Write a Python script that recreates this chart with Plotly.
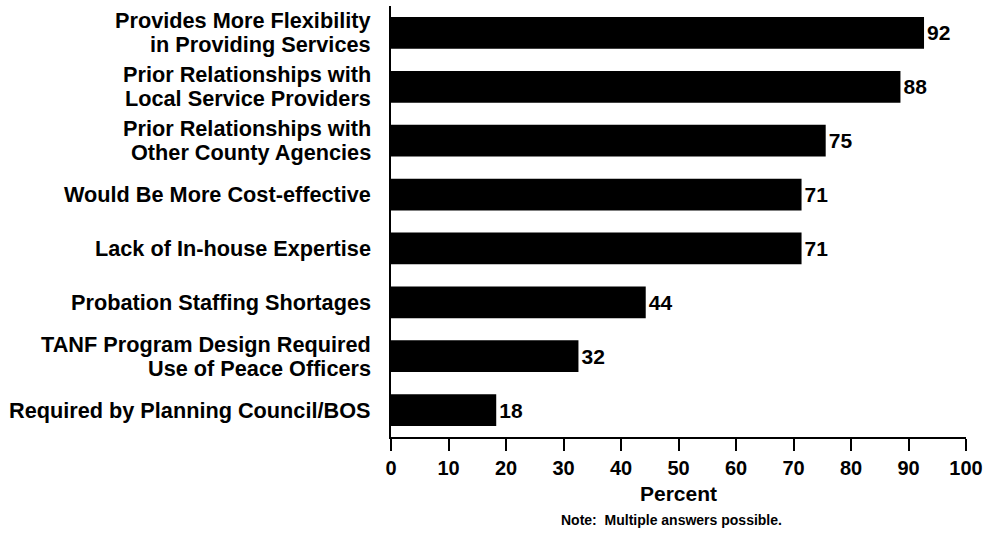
import plotly.graph_objects as go

categories = [
    "Provides More Flexibility<br>in Providing Services",
    "Prior Relationships with<br>Local Service Providers",
    "Prior Relationships with<br>Other County Agencies",
    "Would Be More Cost-effective",
    "Lack of In-house Expertise",
    "Probation Staffing Shortages",
    "TANF Program Design Required<br>Use of Peace Officers",
    "Required by Planning Council/BOS",
]
percent = [92.7, 88.6, 75.6, 71.4, 71.4, 44.3, 32.6, 18.3]
value_labels = ["92", "88", "75", "71", "71", "44", "32", "18"]
x_ticks = [0, 10, 20, 30, 40, 50, 60, 70, 80, 90, 100]

font = "Liberation Sans, Arial, sans-serif"
big = dict(family=font, size=21, color="black", weight="bold")

fig = go.Figure()
fig.add_trace(go.Bar(
    x=percent,
    y=categories,
    orientation="h",
    marker=dict(color="black", line=dict(width=0)),
    text=value_labels,
    textposition="outside",
    textfont=big,
    cliponaxis=False,
))

# category labels drawn line by line so the line spacing matches
annotations = []
for cat in categories:
    lines = cat.split("<br>")
    n = len(lines)
    for i, line in enumerate(lines):
        annotations.append(dict(
            text=line, x=0, xref="paper", y=cat, yref="y",
            xanchor="right", yanchor="middle", xshift=-18,
            yshift=(n - 1) * 12 - i * 24,
            showarrow=False,
            font=dict(family=font, size=21.7, color="black", weight="bold"),
        ))
annotations.append(dict(
    text="Note:  Multiple answers possible.",
    x=0.487, xref="paper", y=-(520 - 437) / 431, yref="paper",
    yanchor="middle", showarrow=False,
    font=dict(family=font, size=14, color="black", weight="bold"),
))

fig.update_layout(
    width=987, height=546,
    margin=dict(l=391, r=21, t=6, b=109),
    paper_bgcolor="white", plot_bgcolor="white",
    bargap=0.41,
    showlegend=False,
    font=dict(family=font, size=16, color="black"),
    annotations=annotations,
)

fig.update_xaxes(
    range=[0, 100], tickvals=x_ticks, automargin=False,
    showgrid=False, zeroline=False,
    showline=True, linecolor="black", linewidth=2,
    ticks="outside", ticklen=12, tickwidth=2, tickcolor="black",
    tickfont=dict(family=font, size=20, color="black", weight="bold"),
    title=dict(text="Percent", font=big, standoff=8),
)
fig.update_yaxes(
    autorange="reversed", automargin=False,
    showgrid=False, zeroline=False,
    showline=True, linecolor="black", linewidth=2,
    ticks="", showticklabels=False,
)

fig.write_html("out.html", config={"displayModeBar": False},
               post_script="document.body.style.margin='0';")
